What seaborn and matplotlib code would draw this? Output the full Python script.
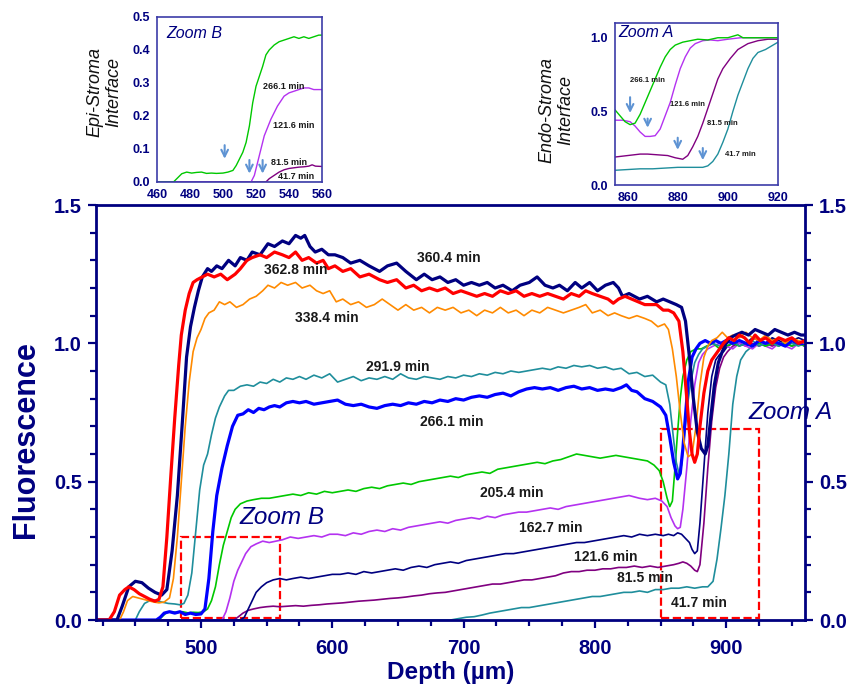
"""
Stromal fluorescence depth profiles with two zoomed interface insets
"""
import matplotlib
matplotlib.use('Agg')
import matplotlib.pyplot as plt
from matplotlib.patches import Rectangle
from matplotlib.ticker import MultipleLocator, FormatStrFormatter
import seaborn as sns

# ---------------- main chart data (depth in um, fluorescence) ----------------
depth_360 = [420, 436, 440, 445, 450, 455, 460, 465, 470, 474, 478, 482, 486, 489, 492, 495, 498, 501, 505, 508,
             512, 516, 521, 526, 530, 535, 539, 545, 551, 556, 562, 567, 572, 576, 579, 583, 587, 592, 597, 602,
             608, 614, 621, 628, 636, 642, 649, 656, 664, 670, 676, 682, 688, 694, 700, 706, 712, 718, 724, 730,
             737, 743, 750, 756, 762, 768, 773, 779, 785, 790, 796, 802, 808, 814, 818, 821, 826, 830, 834, 840,
             847, 852, 857, 862, 866, 869, 872, 875, 878, 881, 884, 886, 888, 891, 894, 897, 900, 903, 907, 912,
             917, 922, 927, 932, 937, 942, 947, 952, 957, 960]
fluo_360 = [0, 0, 0.05, 0.12, 0.14, 0.135, 0.115, 0.10, 0.09, 0.11, 0.25, 0.45, 0.73, 0.95, 1.06, 1.13, 1.19, 1.24, 1.27, 1.26,
            1.28, 1.27, 1.30, 1.28, 1.31, 1.30, 1.33, 1.32, 1.36, 1.35, 1.37, 1.36, 1.39, 1.38, 1.39, 1.35, 1.33, 1.34, 1.32, 1.32,
            1.31, 1.29, 1.30, 1.28, 1.26, 1.28, 1.29, 1.26, 1.23, 1.25, 1.23, 1.24, 1.22, 1.23, 1.21, 1.22, 1.21, 1.22, 1.20, 1.21,
            1.19, 1.21, 1.22, 1.24, 1.21, 1.20, 1.21, 1.19, 1.22, 1.20, 1.22, 1.19, 1.21, 1.22, 1.20, 1.17, 1.18, 1.17, 1.16, 1.17,
            1.15, 1.16, 1.15, 1.14, 1.13, 1.08, 0.95, 0.80, 0.68, 0.62, 0.60, 0.63, 0.72, 0.85, 0.93, 0.97, 1.00, 1.02, 1.03, 1.04,
            1.03, 1.05, 1.04, 1.03, 1.05, 1.04, 1.03, 1.04, 1.03, 1.03]

depth_362 = [420, 430, 434, 438, 442, 445, 449, 453, 457, 461, 465, 468, 471, 474, 477, 480, 483, 485, 488, 491,
             494, 497, 501, 505, 510, 515, 520, 526, 530, 535, 539, 545, 550, 556, 562, 567, 572, 577, 582, 588,
             593, 597, 602, 608, 614, 621, 628, 636, 642, 649, 656, 662, 668, 674, 680, 686, 692, 698, 704, 710,
             716, 722, 728, 734, 740, 746, 752, 758, 764, 770, 776, 782, 788, 793, 798, 804, 810, 814, 818, 823,
             828, 833, 838, 843, 847, 852, 856, 860, 864, 867, 870, 872, 874, 876, 878, 880, 883, 886, 889, 892,
             895, 898, 902, 906, 910, 914, 918, 922, 926, 930, 935, 940, 945, 950, 955, 960]
fluo_362 = [0, 0, 0.03, 0.09, 0.11, 0.12, 0.11, 0.095, 0.085, 0.075, 0.068, 0.075, 0.12, 0.30, 0.52, 0.73, 0.92, 1.03, 1.12, 1.18,
            1.22, 1.23, 1.24, 1.25, 1.24, 1.25, 1.23, 1.25, 1.27, 1.30, 1.31, 1.32, 1.31, 1.33, 1.32, 1.31, 1.33, 1.30, 1.31, 1.29,
            1.30, 1.27, 1.28, 1.26, 1.27, 1.24, 1.25, 1.23, 1.22, 1.23, 1.20, 1.21, 1.19, 1.20, 1.19, 1.20, 1.18, 1.19, 1.18, 1.17,
            1.18, 1.17, 1.19, 1.18, 1.19, 1.17, 1.18, 1.17, 1.18, 1.17, 1.16, 1.18, 1.17, 1.19, 1.18, 1.17, 1.16, 1.145, 1.16, 1.17,
            1.16, 1.15, 1.14, 1.14, 1.14, 1.12, 1.12, 1.11, 1.08, 0.97, 0.80, 0.68, 0.60, 0.57, 0.60, 0.70, 0.82, 0.90, 0.94, 0.96,
            0.98, 1.00, 1.02, 1.01, 1.03, 1.02, 1.00, 1.03, 1.01, 1.02, 1.00, 1.02, 1.01, 1.02, 1.00, 1.01]

depth_338 = [420, 438, 441, 444, 448, 452, 456, 460, 464, 468, 472, 476, 479, 482, 485, 488, 491, 494, 497, 500,
             503, 506, 510, 514, 518, 522, 527, 532, 537, 542, 547, 551, 556, 561, 566, 572, 577, 583, 588, 593,
             598, 603, 608, 614, 620, 626, 632, 638, 644, 650, 656, 662, 668, 674, 680, 686, 692, 698, 704, 710,
             716, 722, 728, 734, 740, 746, 752, 758, 764, 770, 776, 782, 788, 793, 798, 804, 810, 815, 820, 826,
             832, 838, 843, 848, 853, 856, 859, 862, 865, 868, 871, 874, 877, 880, 883, 886, 889, 893, 897, 901,
             905, 910, 915, 920, 925, 930, 935, 940, 945, 950, 955, 960]
fluo_338 = [0, 0, 0.03, 0.07, 0.085, 0.08, 0.075, 0.07, 0.065, 0.062, 0.065, 0.08, 0.15, 0.30, 0.50, 0.70, 0.86, 0.97, 1.02, 1.05,
            1.09, 1.11, 1.12, 1.15, 1.14, 1.15, 1.13, 1.14, 1.16, 1.17, 1.19, 1.21, 1.20, 1.22, 1.21, 1.22, 1.20, 1.21, 1.19, 1.18,
            1.19, 1.15, 1.16, 1.14, 1.15, 1.13, 1.14, 1.16, 1.14, 1.12, 1.14, 1.12, 1.13, 1.11, 1.13, 1.12, 1.13, 1.11, 1.12, 1.10,
            1.12, 1.11, 1.13, 1.11, 1.12, 1.10, 1.12, 1.11, 1.13, 1.12, 1.11, 1.12, 1.13, 1.14, 1.11, 1.12, 1.10, 1.11, 1.10, 1.09,
            1.10, 1.09, 1.08, 1.06, 1.07, 1.05, 0.98, 0.88, 0.75, 0.64, 0.59, 0.60, 0.70, 0.85, 0.95, 0.99, 1.01, 1.02, 1.04, 1.02,
            1.03, 1.02, 1.04, 1.02, 1.01, 1.03, 1.01, 1.02, 1.00, 1.02, 1.01, 1.00]

depth_291 = [420, 450, 453, 457, 461, 465, 470, 475, 480, 484, 487, 490, 493, 496, 499, 502, 505, 508, 511, 514,
             518, 521, 525, 530, 535, 540, 545, 550, 555, 560, 565, 570, 575, 580, 586, 592, 598, 604, 610, 616,
             622, 628, 634, 640, 646, 652, 658, 664, 670, 676, 682, 688, 694, 700, 706, 712, 718, 724, 730, 736,
             742, 748, 754, 760, 766, 772, 778, 784, 790, 796, 802, 808, 814, 820, 826, 832, 838, 844, 850, 854,
             857, 860, 862, 864, 866, 868, 870, 873, 876, 879, 882, 886, 890, 895, 900, 905, 910, 915, 920, 925,
             930, 935, 940, 945, 950, 955, 960]
fluo_291 = [0, 0, 0.03, 0.06, 0.07, 0.072, 0.065, 0.06, 0.058, 0.055, 0.06, 0.09, 0.17, 0.32, 0.47, 0.56, 0.60, 0.67, 0.73, 0.77,
            0.81, 0.83, 0.83, 0.845, 0.85, 0.845, 0.86, 0.855, 0.87, 0.86, 0.875, 0.87, 0.88, 0.87, 0.885, 0.875, 0.89, 0.86, 0.87, 0.88,
            0.865, 0.875, 0.87, 0.88, 0.87, 0.89, 0.875, 0.87, 0.88, 0.875, 0.87, 0.88, 0.875, 0.885, 0.88, 0.89, 0.885, 0.895, 0.89, 0.90,
            0.895, 0.90, 0.905, 0.91, 0.905, 0.915, 0.91, 0.92, 0.915, 0.92, 0.91, 0.915, 0.905, 0.91, 0.89, 0.895, 0.88, 0.885, 0.86, 0.85,
            0.78, 0.65, 0.57, 0.53, 0.56, 0.66, 0.76, 0.86, 0.93, 0.96, 0.98, 0.99, 1.00, 0.99, 1.00, 1.01, 0.99, 1.00, 1.01, 0.99,
            1.00, 1.00, 0.99, 1.01, 1.00, 0.99, 1.00]

depth_266 = [420, 466, 469, 472, 476, 480, 484, 488, 492, 496, 500, 503, 506, 509, 512, 516, 520, 524, 528, 532,
             536, 540, 544, 548, 552, 556, 560, 565, 570, 575, 580, 586, 592, 598, 604, 610, 616, 622, 628, 634,
             640, 646, 652, 658, 664, 670, 676, 682, 688, 694, 700, 706, 712, 718, 724, 730, 736, 742, 748, 754,
             760, 766, 772, 778, 784, 790, 796, 802, 808, 814, 820, 824, 828, 832, 838, 844, 850, 854, 857, 860,
             863, 865, 867, 869, 871, 874, 877, 880, 884, 888, 892, 896, 900, 905, 910, 915, 920, 925, 930, 935,
             940, 945, 950, 955, 960]
fluo_266 = [0, 0, 0.01, 0.025, 0.03, 0.025, 0.03, 0.02, 0.025, 0.02, 0.022, 0.04, 0.15, 0.32, 0.45, 0.55, 0.63, 0.70, 0.74, 0.745,
            0.76, 0.75, 0.765, 0.76, 0.77, 0.775, 0.77, 0.785, 0.79, 0.785, 0.79, 0.78, 0.785, 0.79, 0.795, 0.78, 0.775, 0.78, 0.77, 0.765,
            0.775, 0.78, 0.775, 0.785, 0.78, 0.79, 0.785, 0.795, 0.79, 0.80, 0.795, 0.805, 0.81, 0.805, 0.815, 0.82, 0.81, 0.825, 0.835, 0.84,
            0.835, 0.84, 0.83, 0.84, 0.845, 0.835, 0.84, 0.83, 0.835, 0.83, 0.84, 0.85, 0.83, 0.825, 0.80, 0.79, 0.77, 0.74, 0.66, 0.57,
            0.51, 0.53, 0.62, 0.74, 0.86, 0.95, 0.98, 1.00, 1.01, 1.00, 1.01, 1.00, 1.01, 1.00, 1.01, 1.00, 0.99, 1.01, 1.00, 1.01,
            1.00, 0.99, 1.01, 1.00, 1.00]

depth_205 = [420, 468, 471, 474, 478, 482, 486, 490, 494, 498, 502, 505, 508, 511, 514, 517, 520, 523, 526, 530,
             535, 540, 546, 552, 558, 564, 570, 576, 582, 588, 594, 600, 606, 612, 618, 624, 630, 636, 642, 648,
             654, 660, 666, 672, 678, 684, 690, 696, 702, 708, 714, 720, 726, 732, 738, 744, 750, 756, 762, 768,
             774, 780, 786, 792, 798, 804, 810, 816, 822, 828, 834, 840, 845, 849, 852, 855, 857, 859, 861, 863,
             865, 867, 870, 873, 877, 881, 885, 890, 895, 900, 905, 910, 915, 920, 925, 930, 935, 940, 945, 950,
             955, 960]
fluo_205 = [0, 0, 0.015, 0.028, 0.03, 0.027, 0.03, 0.026, 0.028, 0.027, 0.03, 0.04, 0.07, 0.12, 0.20, 0.27, 0.32, 0.37, 0.40, 0.42,
            0.43, 0.435, 0.44, 0.44, 0.445, 0.45, 0.455, 0.45, 0.46, 0.455, 0.465, 0.46, 0.465, 0.47, 0.465, 0.475, 0.48, 0.475, 0.485, 0.49,
            0.495, 0.49, 0.50, 0.505, 0.51, 0.515, 0.52, 0.515, 0.525, 0.53, 0.535, 0.53, 0.545, 0.55, 0.555, 0.56, 0.565, 0.57, 0.565, 0.575,
            0.58, 0.59, 0.60, 0.595, 0.59, 0.585, 0.59, 0.595, 0.59, 0.585, 0.58, 0.575, 0.56, 0.54, 0.50, 0.44, 0.41, 0.43, 0.55, 0.68,
            0.80, 0.88, 0.94, 0.97, 0.98, 0.98, 0.99, 1.00, 0.98, 0.99, 1.00, 0.99, 1.00, 0.99, 1.00, 0.99, 1.00, 0.99, 1.00, 0.99,
            1.00, 0.99]

depth_162 = [420, 516, 519, 522, 525, 528, 531, 534, 538, 542, 547, 552, 557, 562, 568, 574, 580, 586, 592, 598,
             604, 610, 616, 622, 628, 634, 640, 646, 652, 658, 664, 670, 676, 682, 688, 694, 700, 706, 712, 718,
             724, 730, 736, 742, 748, 754, 760, 766, 772, 778, 784, 790, 796, 802, 808, 814, 820, 826, 830, 834,
             840, 846, 851, 855, 858, 861, 863, 865, 867, 870, 873, 876, 879, 882, 886, 890, 895, 900, 905, 910,
             915, 920, 925, 930, 935, 940, 945, 950, 955, 960]
fluo_162 = [0, 0, 0.03, 0.08, 0.14, 0.18, 0.21, 0.24, 0.265, 0.275, 0.285, 0.28, 0.285, 0.29, 0.30, 0.295, 0.30, 0.305, 0.30, 0.31,
            0.31, 0.305, 0.315, 0.31, 0.32, 0.325, 0.32, 0.33, 0.325, 0.335, 0.34, 0.345, 0.35, 0.355, 0.35, 0.36, 0.365, 0.37, 0.365, 0.375,
            0.37, 0.38, 0.385, 0.39, 0.39, 0.395, 0.40, 0.405, 0.40, 0.41, 0.415, 0.42, 0.425, 0.43, 0.435, 0.44, 0.445, 0.45, 0.445, 0.44,
            0.435, 0.44, 0.43, 0.41, 0.37, 0.34, 0.33, 0.335, 0.40, 0.55, 0.72, 0.85, 0.93, 0.96, 0.98, 0.99, 1.00, 0.99, 0.98, 1.00,
            0.99, 0.98, 1.00, 0.99, 0.98, 1.00, 0.99, 0.98, 1.00, 0.99]

depth_121 = [420, 530, 533, 536, 539, 542, 546, 550, 555, 560, 565, 570, 576, 582, 588, 594, 600, 606, 612, 618,
             624, 630, 636, 642, 648, 654, 660, 666, 672, 678, 684, 690, 696, 702, 708, 714, 720, 726, 732, 738,
             744, 750, 756, 762, 768, 774, 780, 786, 792, 798, 804, 810, 816, 822, 828, 834, 840, 846, 852, 856,
             860, 863, 866, 869, 872, 874, 876, 878, 880, 883, 886, 889, 892, 895, 898, 901, 905, 910, 915, 920,
             925, 930, 935, 940, 945, 950, 955, 960]
fluo_121 = [0, 0, 0.01, 0.04, 0.07, 0.10, 0.12, 0.135, 0.145, 0.15, 0.145, 0.15, 0.155, 0.15, 0.155, 0.16, 0.165, 0.165, 0.17, 0.165,
            0.175, 0.17, 0.175, 0.18, 0.185, 0.18, 0.19, 0.195, 0.19, 0.20, 0.205, 0.21, 0.205, 0.215, 0.22, 0.225, 0.23, 0.235, 0.24, 0.24,
            0.245, 0.25, 0.255, 0.26, 0.265, 0.27, 0.275, 0.28, 0.28, 0.285, 0.29, 0.295, 0.30, 0.305, 0.30, 0.31, 0.305, 0.31, 0.305, 0.31,
            0.305, 0.315, 0.31, 0.295, 0.28, 0.255, 0.24, 0.25, 0.35, 0.55, 0.75, 0.88, 0.94, 0.96, 0.97, 0.99, 1.00, 1.01, 1.00, 1.02,
            1.01, 1.00, 1.02, 1.01, 1.00, 1.01, 1.02, 1.01]

depth_81 = [420, 525, 528, 532, 536, 540, 545, 550, 555, 560, 566, 572, 578, 584, 590, 596, 602, 608, 614, 620,
            626, 632, 638, 644, 650, 656, 662, 668, 674, 680, 686, 692, 698, 704, 710, 716, 722, 728, 734, 740,
            746, 752, 758, 764, 770, 776, 782, 788, 794, 800, 806, 812, 818, 824, 830, 836, 842, 848, 854, 860,
            864, 867, 870, 873, 876, 878, 880, 883, 886, 889, 892, 895, 898, 901, 905, 910, 915, 920, 925, 930,
            935, 940, 945, 950, 955, 960]
fluo_81 = [0, 0, 0.01, 0.025, 0.035, 0.04, 0.045, 0.048, 0.05, 0.048, 0.05, 0.052, 0.05, 0.053, 0.055, 0.058, 0.06, 0.062, 0.065, 0.068,
           0.07, 0.072, 0.075, 0.078, 0.08, 0.083, 0.087, 0.09, 0.095, 0.098, 0.10, 0.105, 0.11, 0.115, 0.12, 0.125, 0.13, 0.13, 0.135, 0.14,
           0.145, 0.145, 0.15, 0.155, 0.16, 0.17, 0.175, 0.175, 0.18, 0.18, 0.185, 0.185, 0.19, 0.19, 0.195, 0.19, 0.195, 0.19, 0.195, 0.20,
           0.205, 0.21, 0.205, 0.195, 0.18, 0.175, 0.20, 0.35, 0.55, 0.72, 0.84, 0.91, 0.95, 0.97, 0.99, 1.00, 0.99, 1.00, 0.99, 1.00,
           0.99, 1.00, 1.00, 0.99, 1.00, 0.99]

depth_41 = [420, 690, 696, 702, 708, 714, 720, 726, 732, 738, 744, 750, 756, 762, 768, 774, 780, 786, 792, 798,
            804, 810, 816, 822, 828, 834, 840, 846, 852, 858, 864, 870, 876, 882, 886, 890, 893, 896, 899, 902,
            905, 908, 911, 915, 920, 925, 930, 935, 940, 945, 950, 955, 960]
fluo_41 = [0, 0, 0.005, 0.01, 0.012, 0.018, 0.025, 0.03, 0.035, 0.04, 0.045, 0.045, 0.05, 0.055, 0.06, 0.065, 0.07, 0.075, 0.08, 0.085,
           0.085, 0.09, 0.095, 0.10, 0.10, 0.105, 0.10, 0.11, 0.11, 0.115, 0.115, 0.12, 0.115, 0.12, 0.12, 0.14, 0.22, 0.33, 0.45, 0.60,
           0.78, 0.88, 0.94, 0.97, 0.99, 1.00, 0.99, 1.00, 1.00, 0.99, 1.00, 1.00, 0.99]

series_labels = ['41.7 min', '81.5 min', '121.6 min', '162.7 min', '205.4 min',
                 '291.9 min', '266.1 min', '338.4 min', '360.4 min', '362.8 min']

# ---------------- inset B: epithelium / stroma interface ----------------
depth_B_green = [460, 470, 472, 475, 478, 481, 484, 487, 490, 493, 496, 500, 503, 506, 508, 510, 512, 514, 516, 518,
                 520, 522, 524, 526, 528, 531, 534, 537, 540, 543, 546, 549, 552, 555, 558, 560]
fluo_B_green = [0, 0, 0.01, 0.025, 0.03, 0.027, 0.029, 0.03, 0.026, 0.027, 0.026, 0.027, 0.03, 0.035, 0.05, 0.07, 0.09, 0.12, 0.17, 0.24,
                0.29, 0.32, 0.35, 0.385, 0.40, 0.415, 0.425, 0.43, 0.435, 0.44, 0.435, 0.44, 0.435, 0.44, 0.445, 0.445]
depth_B_magenta = [460, 517, 519, 521, 523, 525, 527, 529, 531, 533, 535, 537, 540, 543, 546, 549, 552, 555, 558, 560]
fluo_B_magenta = [0, 0, 0.02, 0.06, 0.10, 0.14, 0.165, 0.19, 0.21, 0.23, 0.245, 0.26, 0.27, 0.275, 0.28, 0.285, 0.285, 0.28, 0.28, 0.28]
depth_B_purple = [460, 526, 528, 531, 534, 537, 540, 543, 546, 549, 552, 554, 556, 560]
fluo_B_purple = [0, 0, 0.01, 0.02, 0.03, 0.037, 0.041, 0.043, 0.045, 0.046, 0.048, 0.052, 0.048, 0.047]
depth_B_teal = [460, 560]
fluo_B_teal = [0, 0]
labels_B = ['266.1 min', '121.6 min', '81.5 min', '41.7 min']
arrows_B = [501, 516, 524]

# ---------------- inset A: endothelium / stroma interface ----------------
depth_A_green = [855, 857, 859, 861, 863, 865, 867, 869, 871, 873, 875, 877, 879, 882, 885, 888, 892, 896, 900, 904,
                 906, 910, 915, 920]
fluo_A_green = [0.51, 0.47, 0.43, 0.41, 0.42, 0.48, 0.56, 0.64, 0.72, 0.80, 0.87, 0.92, 0.95, 0.97, 0.98, 0.99, 0.985, 1.0, 1.0, 1.02,
                1.0, 1.0, 1.0, 1.0]
depth_A_magenta = [855, 858, 861, 863, 865, 867, 869, 871, 873, 875, 877, 879, 881, 883, 885, 887, 890, 893, 896, 900,
                   905, 910, 915, 920]
fluo_A_magenta = [0.44, 0.44, 0.43, 0.40, 0.36, 0.33, 0.33, 0.335, 0.38, 0.47, 0.56, 0.68, 0.79, 0.87, 0.93, 0.96, 0.98, 0.985, 0.98, 0.99,
                  1.0, 1.0, 1.0, 1.0]
depth_A_purple = [855, 860, 865, 868, 872, 876, 879, 882, 884, 886, 888, 890, 892, 894, 896, 898, 901, 904, 908, 912,
                  916, 920]
fluo_A_purple = [0.19, 0.20, 0.21, 0.21, 0.205, 0.20, 0.185, 0.175, 0.20, 0.26, 0.33, 0.42, 0.52, 0.62, 0.72, 0.79, 0.86, 0.92, 0.96, 0.98,
                 0.99, 0.99]
depth_A_teal = [855, 860, 865, 870, 875, 880, 885, 890, 892, 894, 896, 898, 900, 902, 904, 906, 908, 910, 912, 915,
                918, 920]
fluo_A_teal = [0.10, 0.105, 0.11, 0.11, 0.115, 0.12, 0.12, 0.12, 0.13, 0.16, 0.21, 0.29, 0.38, 0.50, 0.61, 0.70, 0.79, 0.86, 0.90, 0.92,
               0.95, 0.97]
labels_A = ['266.1 min', '121.6 min', '81.5 min', '41.7 min']
arrows_A = [861, 868, 880, 890]

# ---------------- styles ----------------
NAVY = '#000080'
ARROW = '#5E93D3'
series = {
    '41.7 min': (depth_41, fluo_41, '#1F8E9C', 1.2),
    '81.5 min': (depth_81, fluo_81, '#800080', 1.2),
    '121.6 min': (depth_121, fluo_121, NAVY, 1.2),
    '162.7 min': (depth_162, fluo_162, '#B432F0', 1.2),
    '205.4 min': (depth_205, fluo_205, '#00C800', 1.2),
    '291.9 min': (depth_291, fluo_291, '#1F8E9C', 1.2),
    '266.1 min': (depth_266, fluo_266, '#0000FF', 2.3),
    '338.4 min': (depth_338, fluo_338, '#FF8A00', 1.2),
    '360.4 min': (depth_360, fluo_360, NAVY, 2.3),
    '362.8 min': (depth_362, fluo_362, '#FF0000', 2.3),
}
label_pos = {
    '360.4 min': (689, 1.308), '362.8 min': (572, 1.265), '338.4 min': (596, 1.09),
    '291.9 min': (650, 0.914), '266.1 min': (691, 0.716), '205.4 min': (737, 0.46),
    '162.7 min': (766, 0.332), '121.6 min': (808, 0.228), '81.5 min': (838, 0.152),
    '41.7 min': (879, 0.061),
}

sns.set_style('white')
plt.rcParams['font.family'] = ['Liberation Sans', 'DejaVu Sans']

fig = plt.figure(figsize=(8.56, 6.87), dpi=100)

# ---------------- main axes ----------------
ax = fig.add_axes([0.1121, 0.0975, 0.8283, 0.6041])
for name in series_labels:
    d, f, c, lw = series[name]
    sns.lineplot(x=d, y=f, ax=ax, color=c, lw=lw, estimator=None, sort=False, legend=False)
    tx, ty = label_pos[name]
    ax.text(tx, ty, name, fontsize=10, fontweight='bold', color='#1a1a1a', ha='center', va='center')

ax.add_patch(Rectangle((485, 0.008), 75, 0.292, fill=False, ec='red', ls='--', lw=1.6))
ax.add_patch(Rectangle((850, 0.006), 75, 0.684, fill=False, ec='red', ls='--', lw=1.6))
ax.text(529, 0.372, 'Zoom B', fontsize=17.5, style='italic', color=NAVY, ha='left', va='center')
ax.text(917, 0.75, 'Zoom A', fontsize=17.5, style='italic', color=NAVY, ha='left', va='center')

ax.set_xlim(420, 960)
ax.set_ylim(0, 1.5)
ax.xaxis.set_major_locator(MultipleLocator(100))
ax.xaxis.set_minor_locator(MultipleLocator(25))
ax.yaxis.set_major_locator(MultipleLocator(0.5))
ax.yaxis.set_minor_locator(MultipleLocator(0.1))
ax.yaxis.set_major_formatter(FormatStrFormatter('%.1f'))
for s in ax.spines.values():
    s.set_color(NAVY)
    s.set_linewidth(2.0)
ax.tick_params(which='both', direction='out', color=NAVY, width=1.6)
ax.tick_params(which='major', length=6)
ax.tick_params(which='minor', length=4)
ax.tick_params(axis='y', which='both', left=True, right=True, labelleft=True, labelright=True, pad=4)
ax.tick_params(axis='x', which='both', bottom=True, pad=8)
ax.tick_params(axis='both', which='major', labelsize=14.5, labelcolor=NAVY)
for t in ax.xaxis.get_major_ticks():
    t.label1.set_fontweight('bold')
for t in ax.yaxis.get_major_ticks():
    t.label1.set_fontweight('bold')
    t.label2.set_fontweight('bold')
ax.set_xlabel('Depth (µm)', fontsize=17.5, fontweight='bold', color=NAVY, labelpad=2)
ax.set_ylabel('Fluorescence', fontsize=22, fontweight='bold', color=NAVY)
ax.yaxis.set_label_coords(-0.078, 0.436)


def style_inset(a):
    for s in a.spines.values():
        s.set_color('#3C3CA8')
        s.set_linewidth(1.2)
    a.tick_params(which='both', direction='out', color='#3C3CA8', width=1.0, length=3,
                  labelsize=9, labelcolor=NAVY, pad=2)
    for lab in a.get_xticklabels() + a.get_yticklabels():
        lab.set_fontweight('bold')


# ---------------- inset B ----------------
axB = fig.add_axes([0.1834, 0.7351, 0.1928, 0.2402])
for d, f, c in [(depth_B_teal, fluo_B_teal, '#1F8E9C'), (depth_B_purple, fluo_B_purple, '#800080'),
                (depth_B_magenta, fluo_B_magenta, '#B432F0'), (depth_B_green, fluo_B_green, '#00C800')]:
    sns.lineplot(x=d, y=f, ax=axB, color=c, lw=1.0, estimator=None, sort=False, legend=False)
axB.set_xlim(460, 560)
axB.set_ylim(0, 0.5)
axB.set_xticks(range(460, 561, 20))
axB.set_yticks([0, 0.1, 0.2, 0.3, 0.4, 0.5])
axB.yaxis.set_major_formatter(FormatStrFormatter('%.1f'))
axB.set_xlabel('')
axB.set_ylabel('')
style_inset(axB)
for x0 in arrows_B:
    top = 0.12 if x0 == arrows_B[0] else 0.075
    axB.annotate('', xy=(x0, top - 0.058), xytext=(x0, top),
                 arrowprops=dict(arrowstyle='->', color=ARROW, lw=1.5, mutation_scale=12))
for name, (tx, ty) in zip(labels_B, [(537, 0.29), (543, 0.17), (540, 0.06), (544, 0.016)]):
    axB.text(tx, ty, name, fontsize=6.5, fontweight='bold', color='#1a1a1a', ha='center', va='center')
axB.text(0.055, 0.90, 'Zoom B', transform=axB.transAxes, fontsize=11.5, style='italic',
         color=NAVY, ha='left', va='center')
fig.text(104 / 856, 1 - 92 / 687, 'Epi-Stroma\nInterface', rotation=90, fontsize=13, style='italic',
         color='#111111', ha='center', va='center', linespacing=1.15)

# ---------------- inset A ----------------
axA = fig.add_axes([0.7185, 0.7307, 0.1904, 0.2358])
for d, f, c in [(depth_A_teal, fluo_A_teal, '#1F8E9C'), (depth_A_purple, fluo_A_purple, '#800080'),
                (depth_A_magenta, fluo_A_magenta, '#B432F0'), (depth_A_green, fluo_A_green, '#00C800')]:
    sns.lineplot(x=d, y=f, ax=axA, color=c, lw=1.0, estimator=None, sort=False, legend=False)
axA.set_xlim(855, 920)
axA.set_ylim(0, 1.1)
axA.set_xticks([860, 880, 900, 920])
axA.set_yticks([0, 0.5, 1.0])
axA.yaxis.set_major_formatter(FormatStrFormatter('%.1f'))
axA.set_xlabel('')
axA.set_ylabel('')
style_inset(axA)
for x0, (top, bot) in zip(arrows_A, [(0.615, 0.47), (0.47, 0.37), (0.34, 0.22), (0.27, 0.15)]):
    axA.annotate('', xy=(x0, bot), xytext=(x0, top),
                 arrowprops=dict(arrowstyle='->', color=ARROW, lw=1.5, mutation_scale=12))
for name, (tx, ty) in zip(labels_A, [(867.8, 0.71), (884, 0.55), (898, 0.42), (905, 0.21)]):
    axA.text(tx, ty, name, fontsize=5.5, fontweight='bold', color='#1a1a1a', ha='center', va='center')
axA.text(0.02, 0.94, 'Zoom A', transform=axA.transAxes, fontsize=11.5, style='italic',
         color=NAVY, ha='left', va='center')
fig.text(556 / 856, 1 - 110 / 687, 'Endo-Stroma\nInterface', rotation=90, fontsize=13, style='italic',
         color='#111111', ha='center', va='center', linespacing=1.15)

fig.savefig('out.png', dpi=100)
